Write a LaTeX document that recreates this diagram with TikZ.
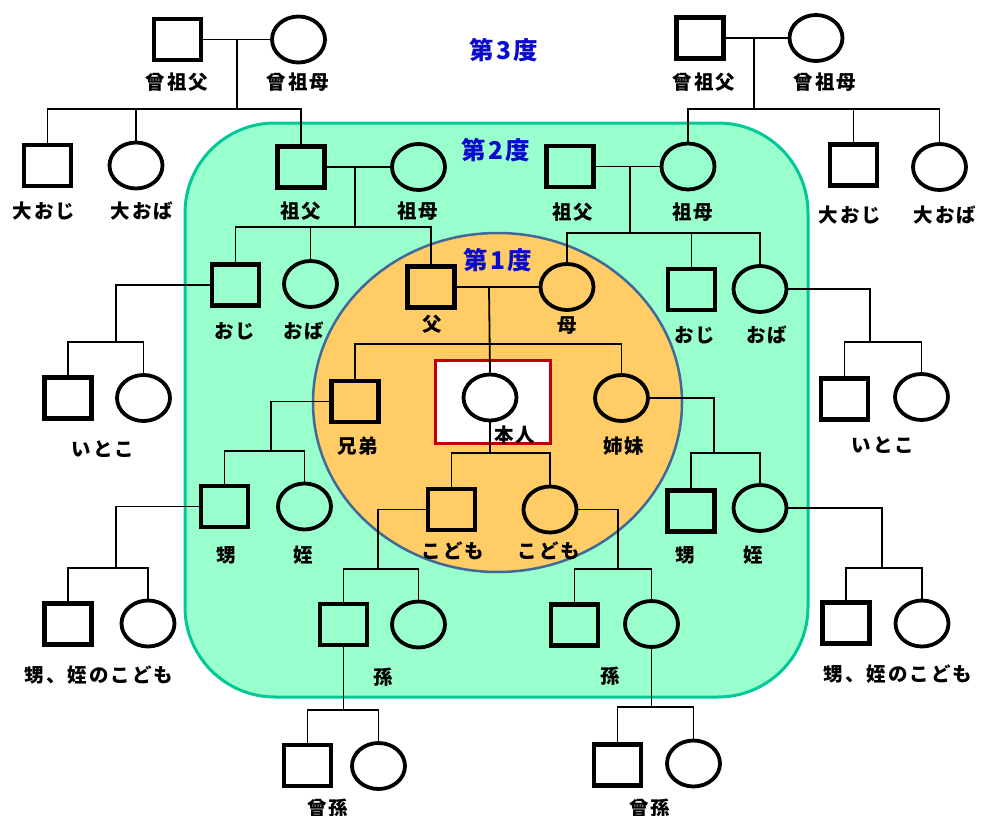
\documentclass[tikz,border=0pt]{standalone}
\usepackage{fontspec}
\newfontfamily\jp{Noto Sans CJK JP}[LetterSpace=10]
\usetikzlibrary{shapes.geometric}
\definecolor{mint}{RGB}{153,255,204}
\definecolor{mintline}{RGB}{0,200,150}
\definecolor{orng}{RGB}{255,204,102}
\definecolor{orngline}{RGB}{65,105,150}
\definecolor{boxred}{RGB}{192,0,0}
\definecolor{degblue}{RGB}{10,10,205}
\tikzset{
  msq/.style={rectangle, draw=black, line width=4.2pt, minimum width=47pt, minimum height=41pt, inner sep=0pt},
  fci/.style={ellipse, draw=black, line width=3.8pt, minimum width=53pt, minimum height=46pt, inner sep=0pt},
  outs/.style={fill=white},
  grn/.style={fill=mint},
  org/.style={fill=orng},
  lbl/.style={font=\jp\bfseries\fontsize{19.5}{21}\selectfont, inner sep=0pt, text=black},
  deg/.style={font=\jp\bfseries\fontsize{24.5}{26}\selectfont, inner sep=0pt, text=degblue},
  con/.style={draw=black, line width=1.8pt}
}
\begin{document}
\begin{tikzpicture}[x=1pt,y=-1pt]
\useasboundingbox (0,0) rectangle (983,816);
% regions
\draw[fill=mint, draw=mintline, line width=3pt, rounded corners=90pt] (185,123) rectangle (808,697);
\draw[fill=orng, draw=orngline, line width=2.5pt] (497.5,402.5) ellipse [x radius=184.5, y radius=169.5];
\node[draw=boxred, line width=3pt, fill=white, minimum width=115pt, minimum height=83pt, inner sep=0pt] (hbox) at (493,402) {};

% connector coordinates
\coordinate (m1) at (237,39.5);  \coordinate (b1) at (237,109);
\coordinate (m2) at (355,167);   \coordinate (b2) at (355,227);
\coordinate (m3) at (489,287);   \coordinate (b3) at (489,344);
\coordinate (b4) at (116,342);
\coordinate (b5) at (271,451);
\coordinate (b6) at (116,568);
\coordinate (b7) at (490,453);
\coordinate (b8) at (378,569);
\coordinate (b9) at (343.5,710);
\coordinate (m10) at (754,38);   \coordinate (b10) at (754,109);
\coordinate (m11) at (630,166.5);\coordinate (b11) at (630,233);
\coordinate (b12) at (870,342);
\coordinate (b13) at (714,453);
\coordinate (b14) at (882,568);
\coordinate (b15) at (618,569);
\coordinate (b16) at (651.5,707);

% nodes: outside left
\node[msq,outs] (sgfL) at (177.5,39.5) {};
\node[fci,outs] (sgmL) at (298.5,39.5) {};
\node[msq,outs] (dojiL) at (47.5,165.5) {};
\node[fci,outs] (dobaL) at (136,165.5) {};
\node[msq,outs] (itoL) at (68,398) {};
\node[fci,outs] (itoLc) at (143.5,398) {};
\node[msq,outs] (nmL) at (68,624) {};
\node[fci,outs] (nmLc) at (148,623.5) {};
% green
\node[msq,grn] (gfL) at (301,167) {};
\node[fci,grn] (gmL) at (418.5,167) {};
\node[msq,grn] (ojiL) at (235.5,285) {};
\node[fci,grn] (obaL) at (310.5,284) {};
\node[msq,grn] (oiL) at (224.5,506.5) {};
\node[fci,grn] (meiL) at (304.5,506.5) {};
\node[msq,grn] (magoL) at (343.5,624.5) {};
\node[fci,grn] (magoLc) at (418.5,624.5) {};
\node[msq,grn] (gfR) at (570,166.5) {};
\node[fci,grn] (gmR) at (688,166.5) {};
\node[msq,grn] (ojiR) at (691.5,289.5) {};
\node[fci,grn] (obaR) at (760,289) {};
\node[msq,grn] (oiR) at (691,511) {};
\node[fci,grn] (meiR) at (760,508) {};
\node[msq,grn] (magoR) at (574.5,625) {};
\node[fci,grn] (magoRc) at (651.5,624) {};
% orange
\node[msq,org] (chichi) at (431,287) {};
\node[fci,org] (haha) at (567,287) {};
\node[msq,org] (kyodai) at (355,401.5) {};
\node[fci,org] (shimai) at (621.5,398) {};
\node[fci,outs] (honnin) at (490,397.5) {};
\node[msq,org] (kodL) at (451.5,509.5) {};
\node[fci,org] (kodR) at (550,509.5) {};
% outside right
\node[msq,outs] (sgfR) at (700,38) {};
\node[fci,outs] (sgmR) at (816,38) {};
\node[msq,outs] (dojiR) at (853.5,165) {};
\node[fci,outs] (dobaR) at (939.5,167) {};
\node[msq,outs] (itoR) at (844.5,399) {};
\node[fci,outs] (itoRc) at (921.5,397) {};
\node[msq,outs] (nmR) at (846,623) {};
\node[fci,outs] (nmRc) at (922,623.5) {};
% bottom
\node[msq,outs] (hmL) at (307.5,765.5) {};
\node[fci,outs] (hmLc) at (378.5,766) {};
\node[msq,outs] (hmR) at (617.5,765) {};
\node[fci,outs] (hmRc) at (693.5,763.5) {};

% connectors
\draw[con] (sgfL.east) -- (sgmL.west);
\draw[con] (m1) -- (b1);
\draw[con] (dojiL.north) |- (b1) -| (gfL.north);
\draw[con] (dobaL.north) -- (dobaL.north |- b1);

\draw[con] (gfL.east) -- (gmL.west);
\draw[con] (m2) -- (b2);
\draw[con] (ojiL.north) |- (b2) -| (chichi.north);
\draw[con] (obaL.north) -- (obaL.north |- b2);

\draw[con] (chichi.east) -- (haha.west);
\draw[con] (m3) -- (honnin.north);
\draw[con] (kyodai.north) |- (b3) -| (shimai.north);

\draw[con] (ojiL.west) -| (b4);
\draw[con] (itoL.north) |- (b4) -| (itoLc.north);

\draw[con] (kyodai.west) -| (b5);
\draw[con] (oiL.north) |- (b5) -| (meiL.north);

\draw[con] (oiL.west) -| (b6);
\draw[con] (nmL.north) |- (b6) -| (nmLc.north);

\draw[con] (honnin.south) -- (b7);
\draw[con] (kodL.north) |- (b7) -| (kodR.north);

\draw[con] (kodL.west) -| (b8);
\draw[con] (magoL.north) |- (b8) -| (magoLc.north);

\draw[con] (magoL.south) -- (b9);
\draw[con] (hmL.north) |- (b9) -| (hmLc.north);

\draw[con] (sgfR.east) -- (sgmR.west);
\draw[con] (m10) -- (b10);
\draw[con] (gmR.north) |- (b10) -| (dobaR.north);
\draw[con] (dojiR.north) -- (dojiR.north |- b10);

\draw[con] (gfR.east) -- (gmR.west);
\draw[con] (m11) -- (b11);
\draw[con] (haha.north) |- (b11) -| (obaR.north);
\draw[con] (ojiR.north) -- (ojiR.north |- b11);

\draw[con] (obaR.east) -| (b12);
\draw[con] (itoR.north) |- (b12) -| (itoRc.north);

\draw[con] (shimai.east) -| (b13);
\draw[con] (oiR.north) |- (b13) -| (meiR.north);

\draw[con] (meiR.east) -| (b14);
\draw[con] (nmR.north) |- (b14) -| (nmRc.north);

\draw[con] (kodR.east) -| (b15);
\draw[con] (magoR.north) |- (b15) -| (magoRc.north);

\draw[con] (magoRc.south) -- (b16);
\draw[con] (hmR.north) |- (b16) -| (hmRc.north);

% degree labels
\node[deg] (d3) at (503.5,50) {第3度};
\node[deg] (d2) at (496,150) {第2度};
\node[deg] (d1) at (497.5,260) {第1度};

% labels
\node[lbl] (l1) at (177,82) {曾祖父};
\node[lbl] (l2) at (298,82) {曾祖母};
\node[lbl] (l3) at (44,211) {大おじ};
\node[lbl] (l4) at (142,211) {大おば};
\node[lbl] (l5) at (301,211) {祖父};
\node[lbl] (l6) at (418,211) {祖母};
\node[lbl] (l7) at (235,331) {おじ};
\node[lbl] (l8) at (304,331) {おば};
\node[lbl] (l9) at (432,324) {父};
\node[lbl] (l10) at (567,326) {母};
\node[lbl] (l11) at (103,449) {いとこ};
\node[lbl] (l12) at (358,446) {兄弟};
\node[lbl] (l13) at (624,446) {姉妹};
\node[lbl] (l14) at (515,435) {本人};
\node[lbl] (l15) at (226,555) {甥};
\node[lbl] (l16) at (303,555) {姪};
\node[lbl] (l17) at (453,551) {こども};
\node[lbl] (l18) at (549,551) {こども};
\node[lbl] (l19) at (685,555) {甥};
\node[lbl] (l20) at (753,555) {姪};
\node[lbl] (l21) at (99,675) {甥、姪のこども};
\node[lbl] (l22) at (898,674) {甥、姪のこども};
\node[lbl] (l23) at (383,677) {孫};
\node[lbl] (l24) at (610,676) {孫};
\node[lbl] (l25) at (328,808) {曾孫};
\node[lbl] (l26) at (650,808) {曾孫};
\node[lbl] (l27) at (704,82) {曾祖父};
\node[lbl] (l28) at (825,82) {曾祖母};
\node[lbl] (l29) at (850,215) {大おじ};
\node[lbl] (l30) at (945,215) {大おば};
\node[lbl] (l31) at (573,212) {祖父};
\node[lbl] (l32) at (693,212) {祖母};
\node[lbl] (l33) at (695,335) {おじ};
\node[lbl] (l34) at (767,335) {おば};
\node[lbl] (l35) at (883,445) {いとこ};
\end{tikzpicture}
\end{document}
